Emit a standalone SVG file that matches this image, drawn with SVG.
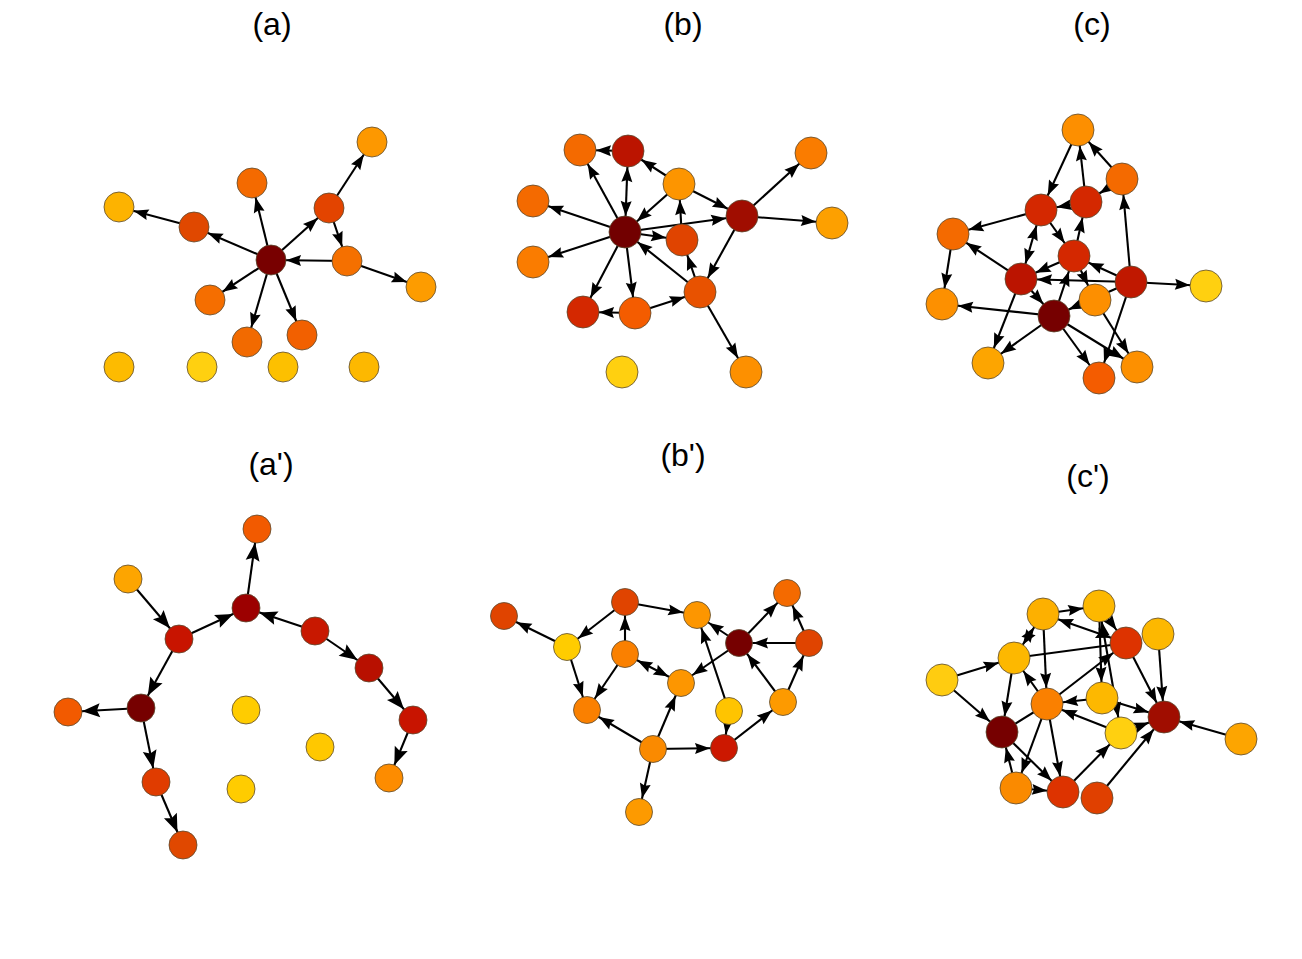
<svg xmlns="http://www.w3.org/2000/svg" width="1302" height="959" viewBox="0 0 1302 959">
<style>
.t{font-family:"Liberation Sans",Arial,sans-serif;font-size:32px;fill:#000;text-anchor:middle}
circle{stroke:#5a4a30;stroke-width:0.8}
.e line{stroke:#000;stroke-width:2.1}
.a14 line{marker-end:url(#m14)}
.a15 line{marker-end:url(#m15)}
.a16 line{marker-end:url(#m16)}
.ap line{marker-end:url(#mb)}
line.d14{marker-start:url(#m14)}
line.d16{marker-start:url(#m16)}
line.p{marker-end:none !important}
</style>
<defs>
<marker id="m14" markerUnits="userSpaceOnUse" refX="14" refY="0" markerWidth="40" markerHeight="20" orient="auto-start-reverse" overflow="visible"><path d="M0,0 L-15,-5.5 L-13,0 L-15,5.5 Z" fill="#000"/></marker>
<marker id="m15" markerUnits="userSpaceOnUse" refX="15" refY="0" markerWidth="40" markerHeight="20" orient="auto-start-reverse" overflow="visible"><path d="M0,0 L-15,-5.5 L-13,0 L-15,5.5 Z" fill="#000"/></marker>
<marker id="m16" markerUnits="userSpaceOnUse" refX="16" refY="0" markerWidth="40" markerHeight="20" orient="auto-start-reverse" overflow="visible"><path d="M0,0 L-15,-5.5 L-13,0 L-15,5.5 Z" fill="#000"/></marker>
<marker id="mb" markerUnits="userSpaceOnUse" refX="14" refY="0" markerWidth="40" markerHeight="20" orient="auto-start-reverse" overflow="visible"><path d="M0,0 L-18,-7 L-15,0 L-18,7 Z" fill="#000"/></marker>
</defs>
<rect width="1302" height="959" fill="#fff"/>
<g id="titles">
<text class="t" x="272" y="35">(a)</text>
<text class="t" x="683" y="35">(b)</text>
<text class="t" x="1092" y="35">(c)</text>
<text class="t" x="271" y="475">(a')</text>
<text class="t" x="683" y="466">(b')</text>
<text class="t" x="1088" y="487">(c')</text>
</g>
<g id="connectors" class="e">
<g class="a15">
<line x1="271" y1="260" x2="252" y2="183"/>
<line x1="271" y1="260" x2="194" y2="227"/>
<line x1="194" y1="227" x2="119" y2="207"/>
<line x1="271" y1="260" x2="329" y2="208"/>
<line x1="329" y1="208" x2="372" y2="142"/>
<line x1="329" y1="208" x2="347" y2="261"/>
<line x1="347" y1="261" x2="271" y2="260"/>
<line x1="347" y1="261" x2="421" y2="287"/>
<line x1="271" y1="260" x2="210" y2="300"/>
<line x1="271" y1="260" x2="247" y2="342"/>
<line x1="271" y1="260" x2="302" y2="335"/>
</g>
<g class="a16">
<line x1="628" y1="151" x2="580" y2="150"/>
<line class="d16" x1="625" y1="232" x2="628" y2="151"/>
<line x1="625" y1="232" x2="580" y2="150"/>
<line x1="679" y1="184" x2="628" y2="151"/>
<line x1="679" y1="184" x2="625" y2="232"/>
<line x1="679" y1="184" x2="742" y2="216"/>
<line x1="625" y1="232" x2="742" y2="216"/>
<line x1="742" y1="216" x2="811" y2="153"/>
<line x1="742" y1="216" x2="832" y2="223"/>
<line x1="625" y1="232" x2="533" y2="201"/>
<line x1="625" y1="232" x2="533" y2="262"/>
<line x1="625" y1="232" x2="682" y2="240"/>
<line x1="682" y1="240" x2="679" y2="184"/>
<line x1="625" y1="232" x2="583" y2="312"/>
<line x1="625" y1="232" x2="635" y2="313"/>
<line x1="635" y1="313" x2="583" y2="312"/>
<line x1="635" y1="313" x2="700" y2="292"/>
<line x1="700" y1="292" x2="625" y2="232"/>
<line x1="700" y1="292" x2="682" y2="240"/>
<line x1="742" y1="216" x2="700" y2="292"/>
<line x1="700" y1="292" x2="746" y2="372"/>
</g>
<g class="a16">
<line x1="1078" y1="130" x2="1041" y2="210"/>
<line x1="1086" y1="202" x2="1078" y2="130"/>
<line x1="1122" y1="179" x2="1078" y2="130"/>
<line x1="1122" y1="179" x2="1086" y2="202"/>
<line x1="1086" y1="202" x2="1041" y2="210"/>
<line x1="1041" y1="210" x2="953" y2="234"/>
<line x1="953" y1="234" x2="942" y2="304"/>
<line x1="1021" y1="279" x2="953" y2="234"/>
<line class="d16" x1="1041" y1="210" x2="1021" y2="279"/>
<line x1="1041" y1="210" x2="1074" y2="256"/>
<line x1="1074" y1="256" x2="1095" y2="300"/>
<line x1="1074" y1="256" x2="1086" y2="202"/>
<line x1="1074" y1="256" x2="1021" y2="279"/>
<line x1="1131" y1="282" x2="1021" y2="279"/>
<line x1="1131" y1="282" x2="1074" y2="256"/>
<line x1="1131" y1="282" x2="1122" y2="179"/>
<line x1="1131" y1="282" x2="1206" y2="286"/>
<line x1="1021" y1="279" x2="1054" y2="316"/>
<line x1="1054" y1="316" x2="1074" y2="256"/>
<line x1="1054" y1="316" x2="942" y2="304"/>
<line x1="1021" y1="279" x2="988" y2="363"/>
<line x1="1054" y1="316" x2="988" y2="363"/>
<line x1="1054" y1="316" x2="1099" y2="378"/>
<line x1="1054" y1="316" x2="1137" y2="367"/>
<line x1="1095" y1="300" x2="1137" y2="367"/>
<line x1="1131" y1="282" x2="1099" y2="378"/>
<line x1="1131" y1="282" x2="1054" y2="316"/>
</g>
<g class="ap">
<line x1="128" y1="579" x2="179" y2="639"/>
<line x1="179" y1="639" x2="246" y2="608"/>
<line x1="246" y1="608" x2="257" y2="529"/>
<line x1="315" y1="631" x2="246" y2="608"/>
<line x1="315" y1="631" x2="369" y2="668"/>
<line x1="369" y1="668" x2="413" y2="720"/>
<line x1="413" y1="720" x2="389" y2="778"/>
<line x1="179" y1="639" x2="141" y2="708"/>
<line x1="141" y1="708" x2="68" y2="712"/>
<line x1="141" y1="708" x2="156" y2="782"/>
<line x1="156" y1="782" x2="183" y2="845"/>
</g>
<g class="a14">
<line x1="567" y1="647" x2="504" y2="616"/>
<line x1="625" y1="602" x2="567" y2="647"/>
<line x1="625" y1="602" x2="697" y2="615"/>
<line x1="625" y1="654" x2="625" y2="602"/>
<line x1="625" y1="654" x2="587" y2="710"/>
<line x1="567" y1="647" x2="587" y2="710"/>
<line class="d14" x1="625" y1="654" x2="681" y2="683"/>
<line x1="739" y1="643" x2="697" y2="615"/>
<line x1="739" y1="643" x2="681" y2="683"/>
<line x1="739" y1="643" x2="787" y2="593"/>
<line x1="809" y1="643" x2="739" y2="643"/>
<line x1="809" y1="643" x2="787" y2="593"/>
<line x1="783" y1="702" x2="739" y2="643"/>
<line x1="783" y1="702" x2="809" y2="643"/>
<line x1="729" y1="711" x2="697" y2="615"/>
<line x1="729" y1="711" x2="724" y2="748"/>
<line x1="724" y1="748" x2="783" y2="702"/>
<line x1="653" y1="749" x2="587" y2="710"/>
<line x1="653" y1="749" x2="681" y2="683"/>
<line x1="653" y1="749" x2="724" y2="748"/>
<line x1="653" y1="749" x2="639" y2="812"/>
</g>
<g class="a16">
<line x1="942" y1="680" x2="1014" y2="658"/>
<line x1="942" y1="680" x2="1002" y2="732"/>
<line class="d16" x1="1014" y1="658" x2="1043" y2="614"/>
<line x1="1043" y1="614" x2="1099" y2="606"/>
<line class="d16" x1="1043" y1="614" x2="1126" y2="643"/>
<line x1="1099" y1="606" x2="1126" y2="643"/>
<line x1="1099" y1="606" x2="1102" y2="698"/>
<line class="d16" x1="1121" y1="733" x2="1099" y2="606"/>
<line x1="1043" y1="614" x2="1047" y2="704"/>
<line x1="1014" y1="658" x2="1002" y2="732"/>
<line class="p" x1="1126" y1="643" x2="1014" y2="658"/>
<line x1="1047" y1="704" x2="1126" y2="643"/>
<line x1="1047" y1="704" x2="1014" y2="658"/>
<line x1="1126" y1="643" x2="1164" y2="717"/>
<line x1="1158" y1="634" x2="1164" y2="717"/>
<line x1="1102" y1="698" x2="1164" y2="717"/>
<line x1="1102" y1="698" x2="1047" y2="704"/>
<line x1="1121" y1="733" x2="1047" y2="704"/>
<line x1="1121" y1="733" x2="1164" y2="717"/>
<line class="p" x1="1002" y1="732" x2="1047" y2="704"/>
<line x1="1047" y1="704" x2="1016" y2="788"/>
<line x1="1047" y1="704" x2="1063" y2="792"/>
<line x1="1002" y1="732" x2="1063" y2="792"/>
<line x1="1016" y1="788" x2="1002" y2="732"/>
<line x1="1016" y1="788" x2="1063" y2="792"/>
<line x1="1063" y1="792" x2="1121" y2="733"/>
<line x1="1097" y1="798" x2="1164" y2="717"/>
<line x1="1241" y1="739" x2="1164" y2="717"/>
</g>
</g>
<g id="nodes-a">
<g id="a1"><circle cx="271" cy="260" r="15" fill="#780000"/></g>
<g id="a2"><circle cx="252" cy="183" r="15" fill="#f46a00"/></g>
<g id="a3"><circle cx="194" cy="227" r="15" fill="#e04800"/></g>
<g id="a4"><circle cx="119" cy="207" r="15" fill="#fdb300"/></g>
<g id="a5"><circle cx="329" cy="208" r="15" fill="#e34400"/></g>
<g id="a6"><circle cx="372" cy="142" r="15" fill="#fd9800"/></g>
<g id="a7"><circle cx="347" cy="261" r="15" fill="#f57000"/></g>
<g id="a8"><circle cx="421" cy="287" r="15" fill="#fd9c00"/></g>
<g id="a9"><circle cx="210" cy="300" r="15" fill="#f56e00"/></g>
<g id="a10"><circle cx="247" cy="342" r="15" fill="#f26a00"/></g>
<g id="a11"><circle cx="302" cy="335" r="15" fill="#f26000"/></g>
<g id="a12"><circle cx="119" cy="367" r="15" fill="#fdbb00"/></g>
<g id="a13"><circle cx="202" cy="367" r="15" fill="#ffd010"/></g>
<g id="a14"><circle cx="283" cy="367" r="15" fill="#fdc000"/></g>
<g id="a15"><circle cx="364" cy="367" r="15" fill="#fdb800"/></g>
</g>
<g id="nodes-b">
<g id="b1"><circle cx="625" cy="232" r="16" fill="#720000"/></g>
<g id="b2"><circle cx="580" cy="150" r="16" fill="#f46a00"/></g>
<g id="b3"><circle cx="628" cy="151" r="16" fill="#bb1400"/></g>
<g id="b4"><circle cx="679" cy="184" r="16" fill="#fd9500"/></g>
<g id="b5"><circle cx="742" cy="216" r="16" fill="#a00d00"/></g>
<g id="b6"><circle cx="811" cy="153" r="16" fill="#fa7c00"/></g>
<g id="b7"><circle cx="832" cy="223" r="16" fill="#fda000"/></g>
<g id="b8"><circle cx="533" cy="201" r="16" fill="#f46a00"/></g>
<g id="b9"><circle cx="533" cy="262" r="16" fill="#fa7c00"/></g>
<g id="b10"><circle cx="682" cy="240" r="16" fill="#e04400"/></g>
<g id="b11"><circle cx="700" cy="292" r="16" fill="#e85200"/></g>
<g id="b12"><circle cx="583" cy="312" r="16" fill="#d42800"/></g>
<g id="b13"><circle cx="635" cy="313" r="16" fill="#f45c00"/></g>
<g id="b14"><circle cx="746" cy="372" r="16" fill="#fd9000"/></g>
<g id="b15"><circle cx="622" cy="372" r="16" fill="#ffd010"/></g>
</g>
<g id="nodes-c">
<g id="c1"><circle cx="1078" cy="130" r="16" fill="#fd8f00"/></g>
<g id="c2"><circle cx="1122" cy="179" r="16" fill="#f46a00"/></g>
<g id="c3"><circle cx="1041" cy="210" r="16" fill="#d42800"/></g>
<g id="c4"><circle cx="1086" cy="202" r="16" fill="#d42800"/></g>
<g id="c5"><circle cx="953" cy="234" r="16" fill="#f46a00"/></g>
<g id="c6"><circle cx="1074" cy="256" r="16" fill="#d42800"/></g>
<g id="c7"><circle cx="1021" cy="279" r="16" fill="#bb1400"/></g>
<g id="c8"><circle cx="1131" cy="282" r="16" fill="#c01800"/></g>
<g id="c9"><circle cx="1206" cy="286" r="16" fill="#ffd010"/></g>
<g id="c10"><circle cx="942" cy="304" r="16" fill="#fd9000"/></g>
<g id="c11"><circle cx="1095" cy="300" r="16" fill="#fd8f00"/></g>
<g id="c12"><circle cx="1054" cy="316" r="16" fill="#760000"/></g>
<g id="c13"><circle cx="988" cy="363" r="16" fill="#fda500"/></g>
<g id="c14"><circle cx="1099" cy="378" r="16" fill="#f45c00"/></g>
<g id="c15"><circle cx="1137" cy="367" r="16" fill="#fd9000"/></g>
</g>
<g id="nodes-ap">
<g id="ap1"><circle cx="257" cy="529" r="14" fill="#f25a00"/></g>
<g id="ap2"><circle cx="128" cy="579" r="14" fill="#fda500"/></g>
<g id="ap3"><circle cx="246" cy="608" r="14" fill="#9c0000"/></g>
<g id="ap4"><circle cx="179" cy="639" r="14" fill="#c81400"/></g>
<g id="ap5"><circle cx="315" cy="631" r="14" fill="#c81800"/></g>
<g id="ap6"><circle cx="369" cy="668" r="14" fill="#b81000"/></g>
<g id="ap7"><circle cx="413" cy="720" r="14" fill="#c81400"/></g>
<g id="ap8"><circle cx="389" cy="778" r="14" fill="#fd8c00"/></g>
<g id="ap9"><circle cx="141" cy="708" r="14" fill="#760000"/></g>
<g id="ap10"><circle cx="68" cy="712" r="14" fill="#f25a00"/></g>
<g id="ap11"><circle cx="156" cy="782" r="14" fill="#e03c00"/></g>
<g id="ap12"><circle cx="183" cy="845" r="14" fill="#e04800"/></g>
<g id="ap13"><circle cx="246" cy="710" r="14" fill="#ffcc00"/></g>
<g id="ap14"><circle cx="320" cy="747" r="14" fill="#ffc800"/></g>
<g id="ap15"><circle cx="241" cy="789" r="14" fill="#ffcc00"/></g>
</g>
<g id="nodes-bp">
<g id="bp1"><circle cx="504" cy="616" r="13.5" fill="#e04400"/></g>
<g id="bp2"><circle cx="567" cy="647" r="13.5" fill="#ffcc00"/></g>
<g id="bp3"><circle cx="625" cy="602" r="13.5" fill="#e04400"/></g>
<g id="bp4"><circle cx="625" cy="654" r="13.5" fill="#fa8000"/></g>
<g id="bp5"><circle cx="697" cy="615" r="13.5" fill="#fd9600"/></g>
<g id="bp6"><circle cx="739" cy="643" r="13.5" fill="#760000"/></g>
<g id="bp7"><circle cx="787" cy="593" r="13.5" fill="#f46a00"/></g>
<g id="bp8"><circle cx="809" cy="643" r="13.5" fill="#e04400"/></g>
<g id="bp9"><circle cx="681" cy="683" r="13.5" fill="#fd9600"/></g>
<g id="bp10"><circle cx="587" cy="710" r="13.5" fill="#fa8000"/></g>
<g id="bp11"><circle cx="729" cy="711" r="13.5" fill="#ffc400"/></g>
<g id="bp12"><circle cx="783" cy="702" r="13.5" fill="#fd9a00"/></g>
<g id="bp13"><circle cx="653" cy="749" r="13.5" fill="#fa8a00"/></g>
<g id="bp14"><circle cx="724" cy="748" r="13.5" fill="#cc1800"/></g>
<g id="bp15"><circle cx="639" cy="812" r="13.5" fill="#fd9a00"/></g>
</g>
<g id="nodes-cp">
<g id="cp1"><circle cx="1043" cy="614" r="16" fill="#fdb000"/></g>
<g id="cp2"><circle cx="1099" cy="606" r="16" fill="#fdb800"/></g>
<g id="cp3"><circle cx="1126" cy="643" r="16" fill="#dd3300"/></g>
<g id="cp4"><circle cx="1158" cy="634" r="16" fill="#fdb800"/></g>
<g id="cp5"><circle cx="1014" cy="658" r="16" fill="#fdb800"/></g>
<g id="cp6"><circle cx="942" cy="680" r="16" fill="#ffcc10"/></g>
<g id="cp7"><circle cx="1047" cy="704" r="16" fill="#fa8000"/></g>
<g id="cp8"><circle cx="1102" cy="698" r="16" fill="#fdb800"/></g>
<g id="cp9"><circle cx="1121" cy="733" r="16" fill="#ffd010"/></g>
<g id="cp10"><circle cx="1164" cy="717" r="16" fill="#a00d00"/></g>
<g id="cp11"><circle cx="1241" cy="739" r="16" fill="#fda500"/></g>
<g id="cp12"><circle cx="1002" cy="732" r="16" fill="#760000"/></g>
<g id="cp13"><circle cx="1016" cy="788" r="16" fill="#fa8a00"/></g>
<g id="cp14"><circle cx="1063" cy="792" r="16" fill="#dd3300"/></g>
<g id="cp15"><circle cx="1097" cy="798" r="16" fill="#e04000"/></g>
</g>
</svg>
